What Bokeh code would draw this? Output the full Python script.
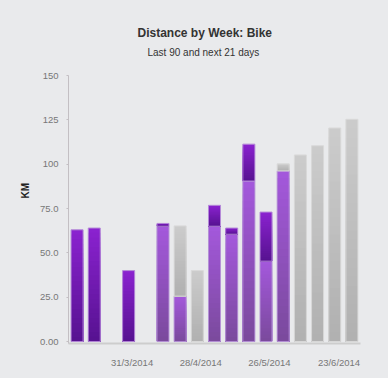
import numpy as np
from bokeh.plotting import figure
from bokeh.models import Title, FixedTicker, Range1d
from bokeh.embed import file_html
from bokeh.resources import INLINE

# ---- data ----
slots = list(range(17))                         # weekly slots
within = [0, 0, 0, 0, 0, 65, 25.6, 0, 65, 60.5, 90.5, 45.3, 96.2, 0, 0, 0, 0]     # done, within plan
over = [63, 64, 0, 40, 0, 1.6, 0, 0, 11.8, 3.5, 20.8, 27.7, 0, 0, 0, 0, 0]         # done, above plan
remaining = [0, 0, 0, 0, 0, 0, 39.6, 40, 0, 0, 0, 0, 4, 105.2, 110.4, 120.4, 125.3]  # planned, not done
x_tick_pos = [3.2, 7.2, 11.2, 15.25]
x_tick_labels = ["31/3/2014", "28/4/2014", "26/5/2014", "23/6/2014"]
y_tick_pos = [0, 25, 50, 75, 100, 125, 150]
y_tick_labels = ["0.00", "25.0", "50.0", "75.0", "100", "125", "150"]

BG = "#e9eaec"
FONT = "Liberation Sans"

p = figure(width=372, height=362, output_backend="svg", toolbar_location=None,
           x_range=Range1d(-0.5, 16.5), y_range=Range1d(-1.1, 150),
           min_border_left=60, min_border_right=20, min_border_top=67,
           min_border_bottom=22)
p.background_fill_color = BG
p.border_fill_color = BG
p.outline_line_color = None
p.grid.visible = False

def hex2rgb(h):
    h = h.lstrip("#")
    return np.array([int(h[i:i + 2], 16) for i in (0, 2, 4)], dtype=float)

def rgb2hex(c):
    return "#%02x%02x%02x" % tuple(int(round(v)) for v in c)

series = [
    (within, "#a458dc", "#7a4a9c", "#b592d6"),
    (over, "#8b22d0", "#561290", "#b58ad8"),
    (remaining, "#cccccc", "#b0b0b0", "#d9d9d9"),
]
N = 24
base = np.zeros(len(slots))
W = 0.7
for vals, ctop, cbot, cline in series:
    vals = np.array(vals, dtype=float)
    tops = base + vals
    xs, bs, ts, cols = [], [], [], []
    for k in reversed(range(N)):
        f = (k + 0.5) / N
        c = rgb2hex(hex2rgb(cbot) * (1 - f) + hex2rgb(ctop) * f)
        for i, s in enumerate(slots):
            if vals[i] <= 0:
                continue
            xs.append(s)
            bs.append(base[i])
            ts.append(base[i] + vals[i] * (k + 1) / N)
            cols.append(c)
    p.vbar(x=xs, width=W, bottom=bs, top=ts, fill_color=cols, line_color=None)
    mask = vals > 0
    p.vbar(x=np.array(slots)[mask], width=W, bottom=base[mask], top=tops[mask],
           fill_color=None, line_color=cline, line_width=1)
    base = tops

# axes
p.yaxis.ticker = FixedTicker(ticks=y_tick_pos)
p.yaxis.major_label_overrides = {v: l for v, l in zip(y_tick_pos, y_tick_labels)}
p.yaxis.axis_line_color = "#c3bfc3"
p.yaxis.major_tick_line_color = "#c3bfc3"
p.yaxis.major_tick_out = 2
p.yaxis.major_tick_in = 0
p.yaxis.minor_tick_line_color = None
p.yaxis.major_label_standoff = 8
p.yaxis.major_label_text_font = FONT
p.yaxis.major_label_text_font_size = "9.5px"
p.yaxis.major_label_text_color = "#777777"

p.xaxis.ticker = FixedTicker(ticks=x_tick_pos)
p.xaxis.major_label_overrides = {v: l for v, l in zip(x_tick_pos, x_tick_labels)}
p.xaxis.axis_line_color = "#cdcdcd"
p.xaxis.axis_line_width = 2
p.xaxis.major_tick_line_color = None
p.xaxis.minor_tick_line_color = None
p.xaxis.major_label_standoff = 7
p.xaxis.major_label_text_font = FONT
p.xaxis.major_label_text_font_size = "9.5px"
p.xaxis.major_label_text_color = "#777777"

# y label
p.add_layout(Title(text="KM", align="left", offset=145, standoff=14, text_font=FONT,
                   text_font_size="10px", text_font_style="bold", text_color="#222222"), "left")

# spacer between the frame and the subtitle
p.add_layout(Title(text=" ", text_font_size="1px", standoff=13, text_color=BG), "above")
# titles
p.add_layout(Title(text="Last 90 and next 21 days", align="left", offset=79, standoff=4,
                   text_font=FONT, text_font_size="10px", text_font_style="normal",
                   text_color="#333333"), "above")
p.add_layout(Title(text="Distance by Week: Bike", align="left", offset=69, standoff=5,
                   text_font=FONT, text_font_size="12px", text_font_style="bold",
                   text_color="#333333"), "above")

html = file_html(p, INLINE)
html = html.replace("<body>", '<body style="background:%s; margin:8px;">' % BG)
open("out.html", "w").write(html)
